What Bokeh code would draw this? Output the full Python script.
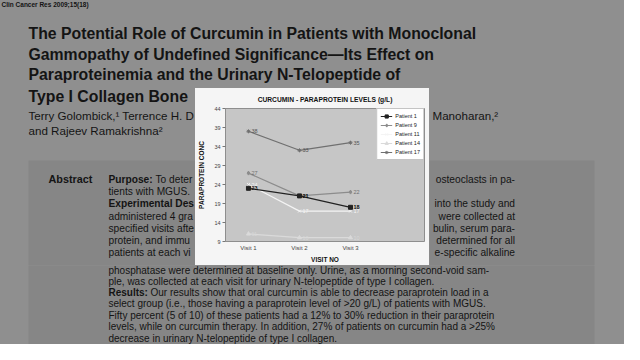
from bokeh.plotting import figure
from bokeh.layouts import column, row
from bokeh.models import Range1d, FixedTicker, Legend, LegendItem
from bokeh.core.properties import value
from bokeh.embed import file_html
from bokeh.resources import INLINE

# ---------------- data ----------------
visits = ["Visit 1", "Visit 2", "Visit 3"]
visit_pos = [1, 2, 3]
patient_names = ["Patient 1", "Patient 9", "Patient 11", "Patient 14", "Patient 17"]
patient_1 = [23, 21, 18]
patient_9 = [27, 21, 22]
patient_11 = [24, 17, 17]
patient_14 = [11, 10, 10]
patient_17 = [38, 33, 35]
y_ticks = [9, 14, 19, 24, 29, 34, 39, 44]

FONT = "Liberation Sans"
PAGE = "#8f8f8f"
ABS = "#868686"
INK = "#141414"
BG = {"background-color": PAGE}


def panel(x0, x1, y0, y1):
    """A figure whose data coordinates are page pixels (y downwards)."""
    f = figure(width=x1 - x0, height=y1 - y0, x_range=Range1d(x0, x1),
               y_range=Range1d(y1, y0), output_backend="svg", toolbar_location=None,
               min_border=0, x_axis_type=None, y_axis_type=None, title=None, styles=BG)
    f.grid.visible = False
    f.outline_line_color = None
    f.background_fill_color = PAGE
    f.border_fill_color = PAGE
    return f


def txt(f, s, x, y, size, bold=False, align="left"):
    f.text(x=[x], y=[y], text=[s], text_font=value(FONT), text_font_size=f"{size}px",
           text_font_style="bold" if bold else "normal", text_align=align,
           text_baseline="middle", text_color=INK)


def rect(f, l, r, t, b, fill):
    f.quad(left=[l], right=[r], top=[t], bottom=[b], fill_color=fill, line_color=None)


TS, AS, BS = 15.8, 11.6, 10.2

# ---------------- header: page y 8..96 ----------------
head = panel(8, 632, 8, 96)
txt(head, "Clin Cancer Res 2009;15(18)", 9, 12, 6.5, bold=True)
txt(head, "The Potential Role of Curcumin in Patients with Monoclonal", 36, 40.7, TS, bold=True)
txt(head, "Gammopathy of Undefined Significance\u2014Its Effect on", 36, 61.7, TS, bold=True)
txt(head, "Paraproteinemia and the Urinary N-Telopeptide of", 36, 81.5, TS, bold=True)

# ---------------- left of the chart: page x 8..203, y 96..273 ----------------
left = panel(8, 203, 96, 273)
rect(left, 36, 210, 168, 280, ABS)
txt(left, "Type I Collagen Bone", 36, 104, TS, bold=True)
txt(left, "Terry Golombick,\u00b9 Terrence H. D", 36, 123.3, AS)
txt(left, "and Rajeev Ramakrishna\u00b2", 36, 138.3, AS)
txt(left, "Abstract", 56, 186.7, 10.8, bold=True)
txt(left, "Purpose:", 116, 186.7, BS, bold=True)
txt(left, "To deter", 163, 186.7, BS)
txt(left, "tients with MGUS.", 116, 199.3, BS)
txt(left, "Experimental Des", 116, 211.3, BS, bold=True)
txt(left, "administered 4 gra", 116, 224, BS)
txt(left, "specified visits afte", 116, 236, BS)
txt(left, "protein, and immu", 116, 248, BS)
txt(left, "patients at each vi", 116, 260.3, BS)

# ---------------- right of the chart: page x 437..632, y 96..273 ----------------
right = panel(437, 632, 96, 273)
rect(right, 430, 602, 168, 280, ABS)
txt(right, "Manoharan,\u00b2", 440, 123.3, AS)
txt(right, "osteoclasts in pa-", 522.5, 186.7, BS, align="right")
txt(right, "into the study and", 522.5, 211.3, BS, align="right")
txt(right, "were collected at", 522.5, 224, BS, align="right")
txt(right, "bulin, serum para-", 522.5, 236, BS, align="right")
txt(right, "determined for all", 522.5, 248, BS, align="right")
txt(right, "e-specific alkaline", 522.5, 260.3, BS, align="right")

# ---------------- footer: page y 273..352 ----------------
FS = 10.0
foot = panel(8, 632, 273, 352)
rect(foot, 36, 602, 260, 360, ABS)
txt(foot, "phosphatase were determined at baseline only. Urine, as a morning second-void sam-", 116, 278, FS)
txt(foot, "ple, was collected at each visit for urinary N-telopeptide of type I collagen.", 116, 289, FS)
txt(foot, "Results:", 116, 300, FS, bold=True)
txt(foot, "Our results show that oral curcumin is able to decrease paraprotein load in a", 158, 300, FS)
txt(foot, "select group (i.e., those having a paraprotein level of >20 g/L) of patients with MGUS.", 116, 311, FS)
txt(foot, "Fifty percent (5 of 10) of these patients had a 12% to 30% reduction in their paraprotein", 116, 322.5, FS)
txt(foot, "levels, while on curcumin therapy. In addition, 27% of patients on curcumin had a >25%", 116, 334, FS)
txt(foot, "decrease in urinary N-telopeptide of type I collagen.", 116, 345.7, FS)

# ---------------- the chart: page x 203..437, y 96..273 ----------------
p = figure(width=234, height=177, output_backend="svg", toolbar_location=None,
           x_range=Range1d(0.55, 4.45), y_range=Range1d(9, 44),
           min_border_left=28, min_border_right=5, min_border_top=20, min_border_bottom=24,
           title="CURCUMIN - PARAPROTEIN LEVELS (g/L)", styles={"background-color": "#f5f5f5"})
p.border_fill_color = "#f5f5f5"
p.background_fill_color = "#c6c6c6"
p.outline_line_color = "#8e8e8e"
p.outline_line_width = 1
p.xgrid.visible = False
p.ygrid.visible = False
p.title.align = "center"
p.title.text_font = FONT
p.title.text_font_size = "6.7px"
p.title.text_font_style = "bold"
p.title.text_color = "#111111"
p.title.standoff = 11

series = [
    # name, values, line colour, marker, label colour, label style
    ("Patient 14", patient_14, "#dadada", "triangle", "#d6d6d6", "normal"),
    ("Patient 11", patient_11, "#f4f4f4", "x", "#f4f4f4", "normal"),
    ("Patient 9", patient_9, "#8c8c8c", "diamond", "#707070", "normal"),
    ("Patient 17", patient_17, "#707070", "asterisk", "#555555", "normal"),
    ("Patient 1", patient_1, "#222222", "square", "#111111", "bold"),
]
renderers = {}
for name, vals, col, mk, lcol, lstyle in series:
    rl = p.line(visit_pos, vals, line_color=col, line_width=1.2)
    rs = p.scatter(visit_pos, vals, marker=mk, size=4, fill_color=col, line_color=col)
    p.text(visit_pos, vals, text=[str(v) for v in vals], x_offset=3, text_baseline="middle",
           text_font=value(FONT), text_font_size="5.5px", text_font_style=lstyle,
           text_color=lcol)
    renderers[name] = [rl, rs]

legend = Legend(items=[LegendItem(label=n, renderers=renderers[n]) for n in patient_names],
                location="top_right", margin=0, padding=3, spacing=1,
                label_height=8, glyph_height=8, glyph_width=12, label_standoff=3,
                label_text_font=FONT, label_text_font_size="5.5px", label_text_color="#222222",
                border_line_color="#8a8a8a", background_fill_color="#ffffff",
                background_fill_alpha=1)
p.add_layout(legend)

p.xaxis.ticker = FixedTicker(ticks=visit_pos)
p.xaxis.major_label_overrides = dict(zip(visit_pos, visits))
p.xaxis.axis_line_color = None
p.xaxis.major_tick_line_color = None
p.xaxis.major_tick_out = 0
p.xaxis.major_tick_in = 0
p.xaxis.minor_tick_line_color = None
p.xaxis.minor_tick_out = 0
p.xaxis.major_label_standoff = 3
p.xaxis.major_label_text_font = FONT
p.xaxis.major_label_text_font_size = "6px"
p.xaxis.major_label_text_color = "#444444"
p.xaxis.axis_label = "VISIT NO"
p.xaxis.axis_label_standoff = 2

p.yaxis.ticker = FixedTicker(ticks=y_ticks)
p.yaxis.axis_line_color = None
p.yaxis.major_tick_line_color = "#777777"
p.yaxis.major_tick_out = 3
p.yaxis.major_tick_in = 0
p.yaxis.minor_tick_line_color = None
p.yaxis.minor_tick_out = 0
p.yaxis.major_label_standoff = 2
p.yaxis.major_label_text_font = FONT
p.yaxis.major_label_text_font_size = "5.5px"
p.yaxis.major_label_text_color = "#444444"
p.yaxis.axis_label = "PARAPROTEIN CONC"
p.yaxis.axis_label_standoff = 6

for ax in (p.xaxis[0], p.yaxis[0]):
    ax.axis_label_text_font = FONT
    ax.axis_label_text_font_size = "6.5px"
    ax.axis_label_text_font_style = "bold"
    ax.axis_label_text_color = "#111111"

chart_box = column(p, styles={"background-color": "#f5f5f5"})
middle = row(left, chart_box, right, styles=BG)
page = column(head, middle, foot, styles=BG)
open("out.html", "w").write(file_html(page, INLINE))
